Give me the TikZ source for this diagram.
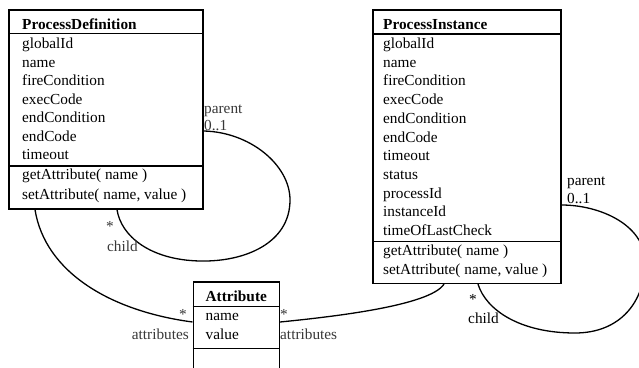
\documentclass[tikz,border=0pt]{standalone}
\usepackage{fontspec}
\setmainfont{Liberation Serif}
\begin{document}
\begin{tikzpicture}[x=1pt,y=-1pt,
  classbox/.style={draw=black, line width=1.6pt, rectangle, anchor=north west, inner sep=0pt},
  sep/.style={line width=1.6pt},
  item/.style={anchor=base west, inner sep=0pt, font=\fontsize{15.3}{18}\selectfont},
  ttl/.style={item, font=\fontsize{15.3}{18}\selectfont\bfseries},
  lbl/.style={inner sep=0pt, font=\fontsize{15.3}{18}\selectfont, text=black!78},
  lblk/.style={inner sep=0pt, font=\fontsize{15.3}{18}\selectfont, text=black},
  assoc/.style={line width=1.3pt}]
\clip (0,0) rectangle (639,367);
% ---------------- ProcessDefinition
\node[classbox, minimum width=194pt, minimum height=199pt] (pd) at (8,9) {};
\draw[sep] (pd.west |- 0,33.3) -- (pd.east |- 0,33.3);
\draw[sep] (pd.west |- 0,166) -- (pd.east |- 0,166);
\node[ttl] (pdt) at (22,29.3) {ProcessDefinition};
\foreach \t [count=\i] in {globalId,name,fireCondition,execCode,endCondition,endCode,timeout}
  \node[item] (pda\i) at (22,{48.5+18.55*(\i-1)}) {\t};
\node[item] (pdo1) at (22,179.5) {getAttribute( name )};
\node[item] (pdo2) at (22,199) {setAttribute( name, value )};
% ---------------- ProcessInstance
\node[classbox, minimum width=188pt, minimum height=273.5pt] (pi) at (372,9) {};
\draw[sep] (pi.west |- 0,34) -- (pi.east |- 0,34);
\draw[sep] (pi.west |- 0,241.5) -- (pi.east |- 0,241.5);
\node[ttl] (pit) at (383,29.3) {ProcessInstance};
\foreach \t [count=\i] in {globalId,name,fireCondition,execCode,endCondition,endCode,timeout,status,processId,instanceId,timeOfLastCheck}
  \node[item] (pia\i) at (383,{48.5+18.72*(\i-1)}) {\t};
\node[item] (pio1) at (383,255) {getAttribute( name )};
\node[item] (pio2) at (383,274) {setAttribute( name, value )};
% ---------------- Attribute
\node[classbox, minimum width=86pt, minimum height=120pt] (at) at (192.5,281) {};
\draw[sep] (at.west |- 0,306.5) -- (at.east |- 0,306.5);
\draw[sep] (at.west |- 0,348.5) -- (at.east |- 0,348.5);
\node[ttl] (att) at (205.5,301.7) {Attribute};
\node[item] (ata1) at (205.5,320) {name};
\node[item] (ata2) at (205.5,339) {value};
% ---------------- connectors
% PD self association
\draw[assoc] ([yshift=-122pt]pd.north east)
  .. controls (250,132) and (290,165) .. (290,200)
  .. controls (290,243) and (245,262) .. (200,261)
  .. controls (150,260) and (121,236) .. ([xshift=109pt]pd.south west);
\node[lbl, anchor=base west] (pdpar) at (204,113) {parent};
\node[lbl, anchor=base west] (pdmul) at (204,130) {0..1};
\node[lbl] (pdstar) at (110,226) {*};
\node[lbl, anchor=base west] (pdch) at (107,251) {child};
% PD -- Attribute
\draw[assoc] ([xshift=27pt]pd.south west)
  .. controls (45,272) and (110,311) .. ([yshift=-41pt]at.north west);
\node[lbl] (atstarl) at (183,314) {*};
\node[lbl, anchor=base east] (atrl) at (189,339) {attributes};
% Attribute -- PI
\draw[assoc] ([yshift=-41pt]at.north east)
  .. controls (330,317) and (430,306) .. ([xshift=72pt]pi.south west);
\node[lbl] (atstarr) at (284,314) {*};
\node[lbl, anchor=base west] (atrr) at (280,339) {attributes};
% PI self association
\draw[assoc] ([yshift=-196pt]pi.north east)
  .. controls (600,205) and (645,225) .. (645,262)
  .. controls (645,302) and (620,333) .. (575,333)
  .. controls (520,333) and (486,310) .. ([xshift=106pt]pi.south west);
\node[lblk, anchor=base west] (pipar) at (567,185) {parent};
\node[lblk, anchor=base west] (pimul) at (567,203) {0..1};
\node[lblk] (pistar) at (473,299) {*};
\node[lblk, anchor=base west] (pich) at (468,323) {child};
\end{tikzpicture}
\end{document}
